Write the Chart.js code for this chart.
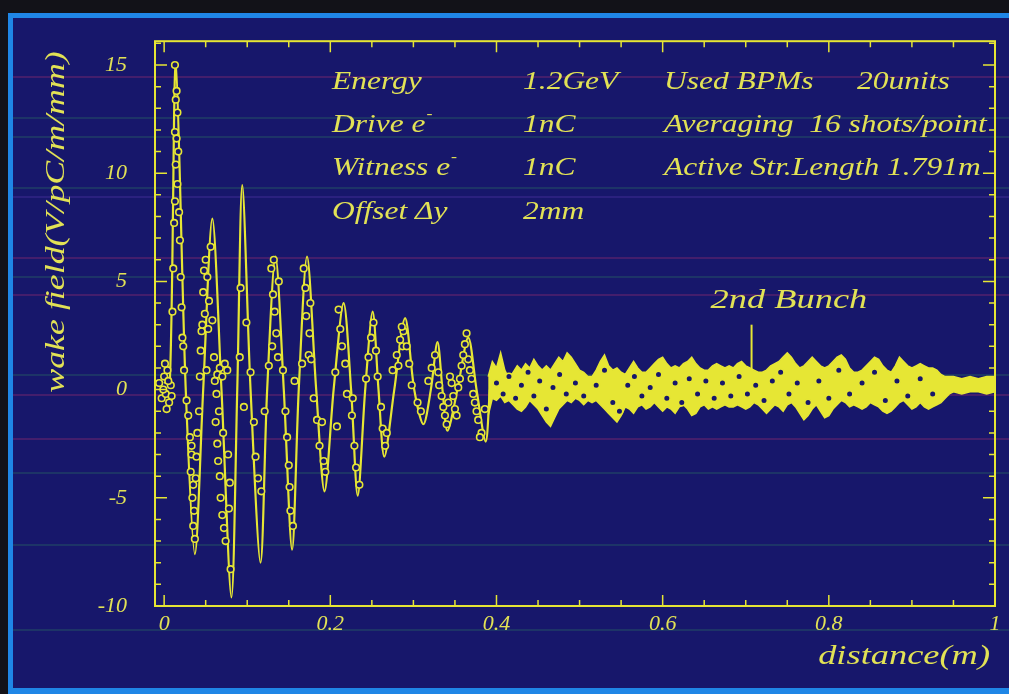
<!DOCTYPE html>
<html>
<head>
<meta charset="utf-8">
<title>wake field</title>
<script src="https://cdn.jsdelivr.net/npm/chart.js@4.4.1/dist/chart.umd.min.js"></script>
<style>
  html, body { margin: 0; padding: 0; background: #121218; }
  #wakeChart { display: block; }
</style>
</head>
<body>
<canvas id="wakeChart" width="1009" height="694"></canvas>
<script>
// simulated wake field (solid line), distance in m
var wakeX = [0.000, 0.007, 0.014, 0.026, 0.037, 0.047, 0.058, 0.069, 0.081, 0.088,
             0.094, 0.104, 0.116, 0.124, 0.134, 0.144, 0.154, 0.162, 0.172, 0.183,
             0.193, 0.204, 0.216, 0.225, 0.233, 0.242, 0.251, 0.258, 0.265, 0.277,
             0.290, 0.301, 0.312, 0.321, 0.329, 0.335, 0.341, 0.353, 0.366, 0.376,
             0.387, 0.392];
var wakeY = [0.3, 0.5, 15.0, 0.0, -7.6, 0.0, 7.9, 0.0, -9.6, 0.0,
             9.45, 0.0, -8.0, 0.0, 6.15, 0.0, -7.4, 0.0, 6.15, 0.0,
             -4.7, 0.0, 4.0, 0.0, -4.9, 0.0, 3.6, 0.0, -3.1, 0.0,
             3.3, 0.0, -1.6, 0.0, 2.2, 0.0, -1.9, 0.0, 2.4, 0.0,
             -2.4, 0.0];

// measured points (16 shots averaged)
var measX = [-0.006, -0.003, 0.000, 0.002, 0.004, 0.006, 0.008, 0.003, -0.001, 0.009, 0.005, 0.001,
             0.013, 0.015, 0.014, 0.016, 0.013, 0.015, 0.017, 0.014, 0.016, 0.013, 0.018, 0.012,
             0.019, 0.011, 0.020, 0.021, 0.010, 0.022, 0.023, 0.024, 0.027,
             0.029, 0.031, 0.033, 0.032, 0.035, 0.034, 0.036, 0.035, 0.038, 0.039, 0.040, 0.042, 0.037, 0.033,
             0.043, 0.044, 0.045, 0.047, 0.048, 0.050, 0.052, 0.049, 0.054, 0.053, 0.056, 0.058, 0.060, 0.051, 0.046,
             0.061, 0.064, 0.067, 0.070, 0.073, 0.076, 0.063,
             0.062, 0.064, 0.065, 0.067, 0.068, 0.070, 0.072, 0.074, 0.077, 0.079, 0.080, 0.078, 0.066, 0.071,
             0.091, 0.092, 0.099, 0.096,
             0.104, 0.110, 0.113, 0.117, 0.121, 0.108,
             0.126, 0.129, 0.131, 0.133, 0.135, 0.137, 0.130, 0.138, 0.132,
             0.143, 0.146, 0.148, 0.150, 0.152, 0.155, 0.157, 0.151,
             0.166, 0.168, 0.170, 0.171, 0.174, 0.175, 0.176, 0.177,
             0.180, 0.184, 0.187, 0.190, 0.192, 0.194,
             0.206, 0.208, 0.210, 0.212, 0.214, 0.218, 0.220,
             0.226, 0.227, 0.229, 0.231, 0.235,
             0.243, 0.246, 0.249, 0.252, 0.255, 0.257,
             0.261, 0.263, 0.266, 0.268,
             0.275, 0.280, 0.284, 0.287, 0.288, 0.292, 0.295, 0.298, 0.282, 0.286,
             0.305, 0.309, 0.318, 0.322, 0.326, 0.330, 0.334, 0.338, 0.342, 0.346,
             0.350, 0.354, 0.358, 0.362, 0.366, 0.370, 0.374, 0.378, 0.382, 0.386,
             0.331, 0.336, 0.340, 0.344, 0.348, 0.352, 0.356, 0.360, 0.364, 0.368,
             0.372, 0.376, 0.380,
             0.400, 0.408, 0.415, 0.423, 0.430, 0.438, 0.445, 0.452, 0.460, 0.468,
             0.476, 0.484, 0.495, 0.505, 0.520, 0.530, 0.540, 0.548, 0.558, 0.566,
             0.575, 0.585, 0.595, 0.605, 0.615, 0.623, 0.632, 0.642, 0.652, 0.662,
             0.672, 0.682, 0.692, 0.702, 0.712, 0.722, 0.732, 0.742, 0.752, 0.762,
             0.775, 0.788, 0.800, 0.812, 0.825, 0.840, 0.855, 0.868, 0.882, 0.895,
             0.910, 0.925];
var measY = [0.3, -0.4, 0.6, -0.2, 0.9, -0.6, 0.2, -0.9, 0.0, -0.3, 0.4, 1.2,
             15.0, 13.8, 13.4, 12.8, 11.9, 11.6, 11.0, 10.4, 9.5, 8.7, 8.2, 7.7,
             6.9, 5.6, 5.2, 3.8, 3.6, 2.4, 2.0, 0.9, -0.5,
             -1.2, -2.2, -3.0, -3.8, -4.4, -5.0, -5.6, -6.3, -4.1, -3.1, -2.0, -1.0, -6.9, -2.6,
             0.6, 1.8, 2.7, 4.5, 5.5, 6.0, 5.2, 3.5, 4.1, 2.8, 6.6, 3.2, 1.5, 0.9, 3.0,
             0.4, 0.7, 1.0, 0.6, 1.2, 0.9, -0.2,
             -1.5, -2.5, -3.3, -4.0, -5.0, -5.8, -6.4, -7.0, -3.0, -4.3, -8.3, -5.5, -1.0, -2.0,
             1.5, 4.7, 3.1, -0.8,
             0.8, -3.1, -4.1, -4.7, -1.0, -1.5,
             1.1, 5.6, 4.4, 3.6, 2.6, 1.5, 2.0, 5.0, 6.0,
             0.9, -1.0, -2.2, -3.5, -5.6, -6.3, 0.4, -4.5,
             1.2, 5.6, 4.7, 3.4, 1.6, 2.6, 4.0, 1.4,
             -0.4, -1.4, -2.6, -1.5, -3.3, -3.8,
             0.8, -1.7, 3.7, 2.8, 2.0, 1.2, -0.2,
             -1.2, -0.4, -2.6, -3.6, -4.4,
             0.5, 1.5, 2.4, 3.1, 1.8, 0.6,
             -0.8, -1.8, -2.6, -2.0,
             0.9, 1.6, 2.3, 2.0, 2.7, 2.0, 1.2, 0.2, 1.1, 2.9,
             -0.6, -1.0, 0.4, 1.0, 1.6, 0.8, -0.3, -1.2, -0.6, 0.3,
             -0.9, 0.1, 1.1, 2.1, 1.4, 0.5, -0.6, -1.4, -2.0, -0.9,
             0.2, -0.8, -1.6, 0.6, -0.3, -1.2, 0.5, 1.6, 2.6, 0.9,
             -0.2, -1.0, -2.2,
             0.3, -0.2, 0.6, -0.4, 0.2, 0.8, -0.3, 0.4, -0.9, 0.1,
             0.7, -0.2, 0.3, -0.3, 0.2, 0.9, -0.6, -1.0, 0.2, 0.6,
             -0.3, 0.1, 0.7, -0.4, 0.3, -0.6, 0.5, -0.2, 0.4, -0.4,
             0.3, -0.3, 0.6, -0.2, 0.2, -0.5, 0.4, 0.8, -0.2, 0.3,
             -0.6, 0.4, -0.4, 0.9, -0.2, 0.3, 0.8, -0.5, 0.4, -0.3,
             0.5, -0.2];

// upper and lower edge of the dense tail beyond 0.39 m
var tailX = [0.390, 0.395, 0.400, 0.405, 0.410, 0.415, 0.420, 0.425, 0.430, 0.435,
             0.440, 0.445, 0.450, 0.455, 0.460, 0.465, 0.470, 0.475, 0.480, 0.485,
             0.490, 0.495, 0.500, 0.505, 0.510, 0.515, 0.520, 0.525, 0.530, 0.535,
             0.540, 0.545, 0.550, 0.555, 0.560, 0.565, 0.570, 0.575, 0.580, 0.585,
             0.590, 0.595, 0.600, 0.605, 0.610, 0.615, 0.620, 0.625, 0.630, 0.635,
             0.640, 0.645, 0.650, 0.655, 0.660, 0.665, 0.670, 0.675, 0.680, 0.685,
             0.690, 0.695, 0.700, 0.705, 0.710, 0.715, 0.720, 0.725, 0.730, 0.735,
             0.740, 0.745, 0.750, 0.755, 0.760, 0.765, 0.770, 0.775, 0.780, 0.785,
             0.790, 0.795, 0.800, 0.805, 0.810, 0.815, 0.820, 0.825, 0.830, 0.835,
             0.840, 0.845, 0.850, 0.855, 0.860, 0.865, 0.870, 0.875, 0.880, 0.885,
             0.890, 0.895, 0.900, 0.905, 0.910, 0.915, 0.920, 0.925, 0.930, 0.935,
             0.940, 0.945, 0.950, 0.960, 0.970, 0.980, 0.990, 1.000];
var tailHigh = [0.6, 1.3, 1.0, 1.7, 0.9, 0.5, 0.8, 1.1, 0.9, 1.2,
                1.0, 1.4, 1.1, 0.9, 1.1, 0.9, 1.2, 1.5, 1.3, 1.7,
                1.5, 1.2, 0.9, 0.8, 0.6, 0.6, 0.9, 1.3, 1.6, 1.1,
                0.9, 1.0, 0.8, 0.7, 1.0, 1.3, 1.0, 0.8, 0.8, 1.0,
                1.2, 1.4, 1.5, 1.2, 1.0, 1.1, 1.0, 1.2, 1.3, 1.5,
                1.2, 1.0, 0.9, 0.9, 1.1, 1.2, 1.1, 1.0, 1.1, 1.0,
                1.2, 1.3, 1.1, 1.0, 0.9, 0.8, 0.8, 0.9, 1.1, 1.2,
                1.3, 1.5, 1.7, 1.5, 1.2, 1.0, 1.1, 1.3, 1.5, 1.3,
                1.1, 1.0, 1.1, 1.3, 1.5, 1.6, 1.4, 1.0, 0.8, 0.8,
                0.9, 1.1, 1.3, 1.5, 1.4, 1.1, 0.9, 0.8, 1.1, 1.5,
                1.3, 1.1, 1.0, 1.1, 1.2, 1.1, 1.0, 1.0, 0.9, 0.7,
                0.6, 0.6, 0.6, 0.5, 0.6, 0.5, 0.6, 0.6];
var tailLow = [-1.2, -0.4, -0.5, -0.3, -0.6, -0.5, -0.7, -0.9, -1.0, -0.8,
               -0.5, -0.7, -0.9, -1.2, -1.5, -1.7, -1.3, -0.9, -0.7, -0.5,
               -0.6, -0.4, -0.5, -0.7, -0.5, -0.6, -0.5, -0.7, -0.9, -1.1,
               -1.3, -1.5, -1.2, -0.8, -0.9, -1.1, -0.8, -0.7, -0.9, -0.8,
               -0.6, -0.8, -1.0, -0.8, -0.9, -1.1, -0.8, -0.7, -0.9, -1.2,
               -1.1, -0.8, -0.7, -0.9, -0.8, -0.9, -0.8, -0.7, -0.8, -0.8,
               -0.7, -0.8, -0.9, -0.8, -0.6, -0.7, -0.9, -1.1, -0.9, -0.7,
               -0.8, -1.0, -0.7, -0.6, -0.8, -1.1, -1.4, -1.2, -0.9, -0.7,
               -1.0, -1.3, -1.2, -0.9, -0.7, -0.5, -0.6, -0.8, -0.7, -0.8,
               -0.9, -0.8, -0.6, -0.7, -0.8, -1.0, -1.1, -1.0, -0.8, -0.6,
               -0.5, -0.7, -0.9, -0.8, -0.6, -0.8, -0.9, -0.8, -0.7, -0.6,
               -0.4, -0.2, -0.1, -0.2, -0.1, -0.1, -0.2, -0.1];

var xTicks = [0, 0.2, 0.4, 0.6, 0.8, 1];
var yTicks = [-10, -5, 0, 5, 10, 15];

// run conditions printed in the plot
var infoNames = ['Energy', 'Drive e', 'Witness e', 'Offset \u0394y'];
var infoSup = ['', '-', '-', ''];
var infoValues = ['1.2GeV', '1nC', '1nC', '2mm'];
var infoRight = [['Used BPMs', '20units'], ['Averaging  16 shots/point'], ['Active Str.Length 1.791m']];

var bunchLabel = '2nd Bunch';
var bunchAt = 0.707;

var yellow = '#e6e634';
var textYellow = '#e2e255';
var navy = '#17176b';
var serif = '"Liberation Serif", "DejaVu Serif", serif';

function pts(xs, ys) {
    return xs.map(function (x, i) { return { x: x, y: ys[i] }; });
}

// italic serif text, a little wider than normal like the print
function wideText(ctx, text, x, y, size, align, sx) {
    ctx.save();
    ctx.font = 'italic ' + size + 'px ' + serif;
    ctx.fillStyle = textYellow;
    ctx.textBaseline = 'middle';
    ctx.textAlign = align;
    ctx.translate(x, y);
    ctx.scale(sx, 1);
    ctx.fillText(text, 0, 0);
    var w = ctx.measureText(text).width * sx;
    ctx.restore();
    return w;
}

// faint coloured streaks across the print
var streaks = [[77, '#b03070'], [118, '#2e7a5e'], [137, '#2e7a5e'], [188, '#2e7a5e'],
               [197, '#5a3ab0'], [258, '#b03070'], [277, '#2e7a5e'], [295, '#b03070'],
               [375, '#2e7a5e'], [395, '#b03070'], [439, '#b03070'], [473, '#2e7a5e'],
               [545, '#2e7a5e'], [630, '#2e7a5e']];

var framePlugin = {
    id: 'frame',
    beforeDraw: function (chart) {
        var ctx = chart.ctx, W = chart.width, H = chart.height;
        ctx.save();
        ctx.fillStyle = '#121218';
        ctx.fillRect(0, 0, W, H);
        ctx.fillStyle = '#1f86e6';
        ctx.fillRect(8, 13, W - 8, H - 13);
        ctx.fillStyle = navy;
        ctx.fillRect(13, 18, W - 13, H - 24);
        ctx.globalAlpha = 0.4;
        ctx.lineWidth = 1.5;
        streaks.forEach(function (s) {
            ctx.strokeStyle = s[1];
            ctx.beginPath();
            ctx.moveTo(13, s[0]);
            ctx.lineTo(W, s[0]);
            ctx.stroke();
        });
        ctx.restore();
    },
    afterDraw: function (chart) {
        var ctx = chart.ctx, a = chart.chartArea;
        var xs = chart.scales.x, ys = chart.scales.y;
        ctx.save();
        ctx.strokeStyle = yellow;
        ctx.lineWidth = 2;
        ctx.strokeRect(a.left, a.top, a.right - a.left, a.bottom - a.top);

        // inward tick marks on all four sides
        ctx.lineWidth = 1.5;
        ctx.beginPath();
        for (var i = 0; i <= 20; i++) {
            var px = xs.getPixelForValue(i * 0.05);
            var len = (i % 4 === 0) ? 11 : 6;
            ctx.moveTo(px, a.bottom); ctx.lineTo(px, a.bottom - len);
            ctx.moveTo(px, a.top); ctx.lineTo(px, a.top + len);
        }
        for (var v = -10; v <= 16; v++) {
            var py = ys.getPixelForValue(v);
            var l2 = (v % 5 === 0) ? 12 : 6;
            ctx.moveTo(a.left, py); ctx.lineTo(a.left + l2, py);
            ctx.moveTo(a.right, py); ctx.lineTo(a.right - l2, py);
        }
        ctx.stroke();

        // marker for the witness bunch
        var bx = xs.getPixelForValue(bunchAt);
        ctx.lineWidth = 2;
        ctx.beginPath();
        ctx.moveTo(bx, ys.getPixelForValue(3.0));
        ctx.lineTo(bx, ys.getPixelForValue(0.85));
        ctx.stroke();
        ctx.restore();

        wideText(ctx, bunchLabel, xs.getPixelForValue(0.752), ys.getPixelForValue(4.1), 28, 'center', 1.3);

        // axis titles
        ctx.save();
        ctx.translate(57, 222);
        ctx.rotate(-Math.PI / 2);
        wideText(ctx, 'wake field(V/pC/m/mm)', 0, 0, 28, 'center', 1.28);
        ctx.restore();
        wideText(ctx, 'distance(m)', 990, 657, 28, 'right', 1.3);

        // condition table
        var rowY = [82, 125, 168, 212];
        infoNames.forEach(function (name, r) {
            var w = wideText(ctx, name, 332, rowY[r], 25, 'left', 1.26);
            if (infoSup[r]) wideText(ctx, infoSup[r], 332 + w + 1, rowY[r] - 11, 15, 'left', 1.2);
            wideText(ctx, infoValues[r], 523, rowY[r], 25, 'left', 1.26);
        });
        infoRight.forEach(function (parts, r) {
            wideText(ctx, parts[0], 664, rowY[r], 25, 'left', 1.26);
            if (parts[1]) wideText(ctx, parts[1], 857, rowY[r], 25, 'left', 1.26);
        });
    }
};

var tickFont = { family: serif, size: 22, style: 'italic' };

new Chart(document.getElementById('wakeChart'), {
    type: 'line',
    data: {
        datasets: [
            {
                label: 'measured',
                data: pts(measX, measY),
                showLine: false,
                pointRadius: 3.3,
                pointBorderWidth: 1.6,
                pointBorderColor: yellow,
                pointBackgroundColor: navy,
                order: 0
            },
            {
                label: 'wake',
                data: pts(wakeX, wakeY),
                borderColor: yellow,
                borderWidth: 2.2,
                pointRadius: 0,
                tension: 0.3,
                order: 1
            },
            {
                label: 'tail low',
                data: pts(tailX, tailLow),
                borderColor: yellow,
                borderWidth: 1.5,
                pointRadius: 0,
                order: 2
            },
            {
                label: 'tail high',
                data: pts(tailX, tailHigh),
                borderColor: yellow,
                borderWidth: 1.5,
                pointRadius: 0,
                fill: '-1',
                backgroundColor: yellow,
                order: 2
            }
        ]
    },
    options: {
        responsive: false,
        animation: false,
        layout: { padding: { top: 38, right: 14, left: 0, bottom: 0 } },
        plugins: { legend: { display: false }, tooltip: { enabled: false } },
        scales: {
            x: {
                type: 'linear',
                min: -0.011,
                max: 1,
                grid: { display: false, drawTicks: false },
                border: { display: false },
                afterBuildTicks: function (s) { s.ticks = xTicks.map(function (v) { return { value: v }; }); },
                afterFit: function (s) { s.height = 88; },
                ticks: {
                    color: textYellow,
                    font: tickFont,
                    padding: 5,
                    maxRotation: 0,
                    autoSkip: false,
                    callback: function (v) { return String(+v.toFixed(2)); }
                }
            },
            y: {
                min: -10,
                max: 16.1,
                grid: { display: false, drawTicks: false },
                border: { display: false },
                afterBuildTicks: function (s) { s.ticks = yTicks.map(function (v) { return { value: v }; }); },
                afterFit: function (s) { s.width = 155; },
                ticks: {
                    color: textYellow,
                    font: tickFont,
                    padding: 28,
                    autoSkip: false,
                    callback: function (v) { return String(v); }
                }
            }
        }
    },
    plugins: [framePlugin]
});
</script>
</body>
</html>
